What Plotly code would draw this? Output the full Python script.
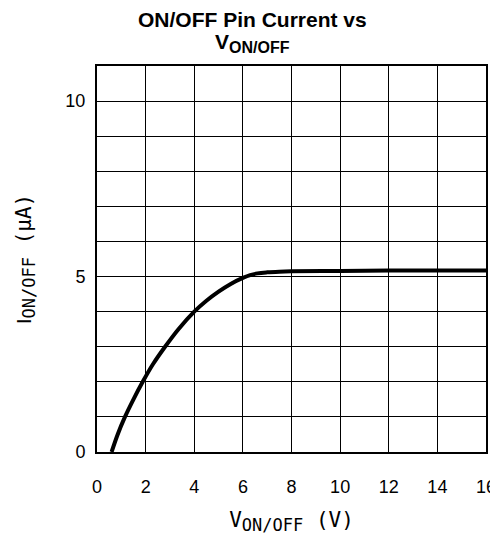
import plotly.graph_objects as go

v_on_off = [0.6, 0.85, 1.15, 1.5, 1.88, 2.3, 2.8, 3.35, 4.0, 4.5, 5.0, 5.5, 6.0, 6.3, 6.6, 7.0, 7.5, 8.0, 10, 12, 14, 16]
i_on_off = [0.0, 0.5, 1.0, 1.5, 2.0, 2.5, 3.0, 3.5, 4.0, 4.31, 4.57, 4.79, 4.96, 5.04, 5.09, 5.12, 5.14, 5.15, 5.16, 5.17, 5.17, 5.17]
x_ticks = [0, 2, 4, 6, 8, 10, 12, 14, 16]
y_ticks = [0, 5, 10]

W, H = 490, 527
L, R, T, B = 89, 12, 58, 83
ph = H - T - B

fig = go.Figure()
fig.add_trace(go.Scatter(x=v_on_off, y=i_on_off, mode="lines",
                         line=dict(color="black", width=4, shape="spline", smoothing=1.0),
                         showlegend=False))

fig.update_layout(
    width=W, height=H,
    margin=dict(l=L, r=R, t=T, b=B, autoexpand=False),
    paper_bgcolor="white", plot_bgcolor="white",
    font=dict(family="Liberation Sans, Arial", size=18, color="black"),
)
fig.add_annotation(text="<b>ON/OFF Pin Current vs</b>", xref="paper", yref="paper",
                   x=0.4, y=1 + (T - 11) / ph, xanchor="center", yanchor="middle",
                   showarrow=False, font=dict(family="Liberation Sans, Arial", size=21))
fig.add_annotation(text="<b>V<sub><span style='font-size:16px'>ON/OFF</span></sub></b>",
                   xref="paper", yref="paper",
                   x=0.4, y=1 + (T - 35) / ph, xanchor="center", yanchor="middle",
                   showarrow=False, font=dict(family="Liberation Sans, Arial", size=21))

fig.update_xaxes(range=[0, 16], tickvals=x_ticks, ticktext=[str(t) for t in x_ticks],
                 showgrid=True, gridcolor="black", gridwidth=1,
                 showline=True, linecolor="black", linewidth=2, mirror=True,
                 ticks="outside", ticklen=17, tickcolor="white", zeroline=False,
                 automargin=False, ticklabeloverflow="allow",
                 title=dict(text="V<sub><span style='font-size:17px'>ON/OFF</span></sub> (V)", standoff=20,
                            font=dict(family="DejaVu Sans Mono, monospace", size=21)))
fig.update_yaxes(range=[0, 11], tickvals=y_ticks, ticktext=[str(t) for t in y_ticks],
                 showgrid=True, gridcolor="black", gridwidth=1,
                 minor=dict(dtick=1, tick0=0, showgrid=True, gridcolor="black", gridwidth=1),
                 showline=True, linecolor="black", linewidth=2, mirror=True,
                 ticks="outside", ticklen=6, tickcolor="white", zeroline=False,
                 automargin=False,
                 title=dict(text="<span style='font-family:Liberation Sans'>I</span><sub><span style='font-size:17px'>ON/OFF</span></sub> (μA)",
                            standoff=28,
                            font=dict(family="DejaVu Sans Mono, monospace", size=21)))

fig.write_html("out.html")
